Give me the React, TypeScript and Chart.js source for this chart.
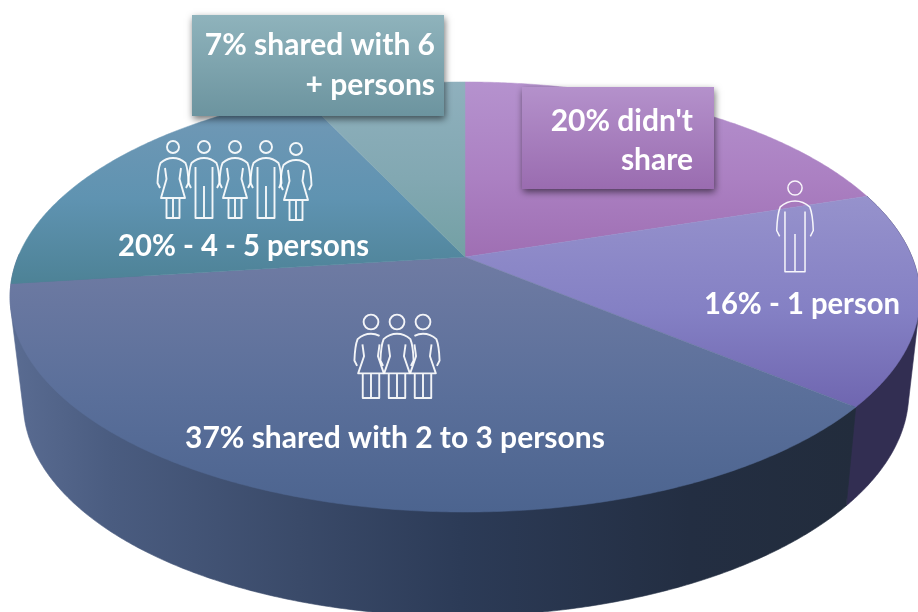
import React, { useEffect, useRef } from "react";
import { Chart, registerables } from "chart.js";

Chart.register(...registerables);

const categories = ["20% didn't share", "16% - 1 person", "37% shared with 2 to 3 persons", "20% - 4 - 5 persons", "7% shared with 6 + persons"];
const shares = [20, 16, 37, 20, 7];
const topStart = ["#b592ce", "#9692cc", "#6f7ba3", "#7399b6", "#8fb0bd"];
const topMid = ["#ab80c2", "#8480c4", "#5a6f9a", "#5f93b1", "#82a8b2"];
const topEnd = ["#9f6fb3", "#6f66b0", "#4c648f", "#4d8296", "#73a0a4"];

const TOP = { cx: 465, cy: 257, a: 207.6, b: 447, k: 0.186, s: 0 };
const LOW = { cx: 466, cy: 357.4, a: 210.5, b: 435, k: 0.186, s: 5 };
const DEG = Math.PI / 180;
type Ring = typeof TOP;
type Pt = [number, number];

function project(r: Ring, t: number): Pt {
  const u = Math.cos(t), v = Math.sin(t), d = 1 - r.k * v;
  return [r.cx + (r.b * u) / d, r.cy + (r.a * v) / d - r.s * u];
}
function ringPts(r: Ring, t0: number, t1: number) {
  const n = Math.max(2, Math.ceil(Math.abs(t1 - t0) / (0.5 * DEG)));
  const out: Pt[] = [];
  for (let i = 0; i <= n; i++) out.push(project(r, t0 + ((t1 - t0) * i) / n));
  return out;
}
function hull(points: Pt[]): Pt[] {
  const p = points.slice().sort((a, b) => a[0] - b[0] || a[1] - b[1]);
  const cross = (o: Pt, a: Pt, b: Pt) => (a[0] - o[0]) * (b[1] - o[1]) - (a[1] - o[1]) * (b[0] - o[0]);
  const lo: Pt[] = [], up: Pt[] = [];
  for (const q of p) {
    while (lo.length > 1 && cross(lo[lo.length - 2], lo[lo.length - 1], q) <= 0) lo.pop();
    lo.push(q);
  }
  for (const q of p.slice().reverse()) {
    while (up.length > 1 && cross(up[up.length - 2], up[up.length - 1], q) <= 0) up.pop();
    up.push(q);
  }
  return lo.slice(0, -1).concat(up.slice(0, -1));
}
function poly(ctx: CanvasRenderingContext2D, pts: Pt[]) {
  ctx.beginPath();
  pts.forEach((p, i) => (i ? ctx.lineTo(p[0], p[1]) : ctx.moveTo(p[0], p[1])));
  ctx.closePath();
}

type PersonOpts = { woman: boolean; lw: number; head?: number; leg?: number; hem?: number; hide?: "l" | "r" };
function person(ctx: CanvasRenderingContext2D, x: number, y: number, s: number, o: PersonOpts) {
  const head = o.head ?? 6, leg = o.leg ?? 6.5, hem = o.hem ?? 51;
  ctx.save();
  ctx.translate(x, y);
  ctx.scale(s, s);
  ctx.lineWidth = o.lw / s;
  ctx.strokeStyle = "rgba(255,255,255,0.92)";
  ctx.lineJoin = "round";
  ctx.beginPath();
  ctx.arc(0, 0, head, 0, Math.PI * 2);
  ctx.stroke();
  ctx.beginPath();
  if (o.hide === "l") {
    ctx.moveTo(-8, 13);
    ctx.quadraticCurveTo(-4, 11, 0, 11);
  } else {
    ctx.moveTo(-13, 41);
    ctx.lineTo(-15.5, 36);
    ctx.quadraticCurveTo(-15, 22, -12.5, 16);
    ctx.quadraticCurveTo(-7, 11, 0, 11);
  }
  if (o.hide === "r") {
    ctx.quadraticCurveTo(4, 11, 8, 13);
  } else {
    ctx.quadraticCurveTo(7, 11, 12.5, 16);
    ctx.quadraticCurveTo(15, 22, 15.5, 36);
    ctx.lineTo(13, 41);
  }
  ctx.stroke();
  ctx.beginPath();
  if (o.woman) {
    ctx.moveTo(-8, 21);
    ctx.lineTo(-6.5, 32);
    ctx.lineTo(-12, hem);
    ctx.lineTo(12, hem);
    ctx.lineTo(6.5, 32);
    ctx.lineTo(8, 21);
    ctx.moveTo(-leg, hem);
    ctx.lineTo(-leg, 71);
    ctx.lineTo(leg, 71);
    ctx.lineTo(leg, hem);
    ctx.moveTo(0, hem);
    ctx.lineTo(0, 71);
  } else {
    ctx.moveTo(-8.5, 20);
    ctx.lineTo(-8.5, 71);
    ctx.lineTo(8.5, 71);
    ctx.lineTo(8.5, 20);
    ctx.moveTo(0, 39);
    ctx.lineTo(0, 71);
  }
  ctx.stroke();
  ctx.restore();
}

const FONT = "700 30px Lato";
function label(ctx: CanvasRenderingContext2D, text: string, x: number, y: number, align: CanvasTextAlign, maxWidth?: number) {
  ctx.font = FONT;
  ctx.fillStyle = "#ffffff";
  ctx.textAlign = align;
  ctx.textBaseline = "alphabetic";
  if (maxWidth) ctx.fillText(text, x, y, maxWidth);
  else ctx.fillText(text, x, y);
}
function box(ctx: CanvasRenderingContext2D, x0: number, y0: number, x1: number, y1: number, c0: string, c1: string) {
  ctx.save();
  const g = ctx.createLinearGradient(0, y0, 0, y1);
  g.addColorStop(0, c0);
  g.addColorStop(1, c1);
  ctx.shadowColor = "rgba(0,0,0,0.55)";
  ctx.shadowBlur = 7;
  ctx.shadowOffsetX = 1;
  ctx.shadowOffsetY = 3;
  ctx.fillStyle = g;
  ctx.fillRect(x0, y0, x1 - x0, y1 - y0);
  ctx.restore();
}

const pie3d = {
  id: "pie3d",
  beforeDatasetDraw(chart: any) {
    const ctx: CanvasRenderingContext2D = chart.ctx;
    const arcs = chart.getDatasetMeta(0).data;
    const wallGrad = ctx.createLinearGradient(10, 0, 860, 0);
    wallGrad.addColorStop(0, "#5a6c92");
    wallGrad.addColorStop(0.12, "#4a5c80");
    wallGrad.addColorStop(0.34, "#3a4a69");
    wallGrad.addColorStop(0.53, "#2c3b57");
    wallGrad.addColorStop(0.8, "#232e42");
    wallGrad.addColorStop(1, "#222c3c");
    ctx.save();
    // walls of the two front slices, from the arcs the library computed
    [arcs[1], arcs[2]].forEach((arc: any, i: number) => {
      const t0 = arc.startAngle;
      const t1 = i === 1 ? arc.endAngle + 8 * DEG : arc.endAngle;
      poly(ctx, hull(ringPts(TOP, t0, t1).concat(ringPts(LOW, t0, t1))));
      const c = i === 0 ? "#322e52" : wallGrad;
      ctx.fillStyle = c;
      ctx.strokeStyle = c;
      ctx.lineWidth = 0.6;
      ctx.fill();
      ctx.stroke();
    });
    // top faces
    arcs.forEach((arc: any, i: number) => {
      const pts = ringPts(TOP, arc.startAngle, arc.endAngle);
      const ys = pts.map((p) => p[1]).concat(TOP.cy);
      const g = ctx.createLinearGradient(0, Math.min(...ys), 0, Math.max(...ys));
      g.addColorStop(0, topStart[i]);
      g.addColorStop(0.55, topMid[i]);
      g.addColorStop(1, topEnd[i]);
      poly(ctx, ([[TOP.cx, TOP.cy]] as Pt[]).concat(pts));
      ctx.fillStyle = g;
      ctx.strokeStyle = g;
      ctx.lineWidth = 0.5;
      ctx.fill();
      ctx.stroke();
    });
    ctx.restore();
    return false;
  },
  afterDatasetsDraw(chart: any) {
    const ctx: CanvasRenderingContext2D = chart.ctx;
    ctx.save();
    [[173, 147, 1], [204, 147, 0], [235, 147, 1], [266, 147, 0], [296, 149, 1]].forEach(([x, y, w]) =>
      person(ctx, x, y, 1, { woman: !!w, lw: 1.9 })
    );
    const trio = { woman: true, lw: 1.9, head: 6.9, leg: 7.7, hem: 48 };
    person(ctx, 371, 322, 1.07, { ...trio, hide: "r" });
    person(ctx, 423, 322, 1.07, { ...trio, hide: "l" });
    person(ctx, 397, 322, 1.07, trio);
    person(ctx, 795, 188, 1.18, { woman: false, lw: 1.5 });

    box(ctx, 192, 15, 444, 116, "#8fb3bc", "#6c949f");
    box(ctx, 522, 87, 714, 189, "#b491cb", "#9a6cb0");

    label(ctx, "7% shared with 6", 435, 55, "right");
    label(ctx, "+ persons", 435, 95, "right");
    label(ctx, "20% didn't", 693, 131, "right");
    label(ctx, "share", 693, 170, "right");
    label(ctx, "20% - 4 - 5 persons", 118, 256, "left", 251);
    label(ctx, "16% - 1 person", 704, 314, "left", 196);
    label(ctx, "37% shared with 2 to 3 persons", 185, 448, "left");
    ctx.restore();
  },
};

export default function App() {
  const ref = useRef<HTMLCanvasElement>(null);
  useEffect(() => {
    const chart = new Chart(ref.current!, {
      type: "pie",
      data: { labels: categories, datasets: [{ data: shares, backgroundColor: topStart, borderWidth: 0 }] },
      options: {
        responsive: false,
        animation: false,
        rotation: 0,
        plugins: { legend: { display: false }, tooltip: { enabled: false } },
      },
      plugins: [pie3d],
    } as any);
    return () => chart.destroy();
  }, []);
  return (
    <div style={{ position: "absolute", left: 0, top: 0, width: 918, height: 612, background: "#fff", overflow: "hidden" }}>
      <canvas ref={ref} width={918} height={612} style={{ display: "block", filter: "blur(0.4px)" }} />
    </div>
  );
}
